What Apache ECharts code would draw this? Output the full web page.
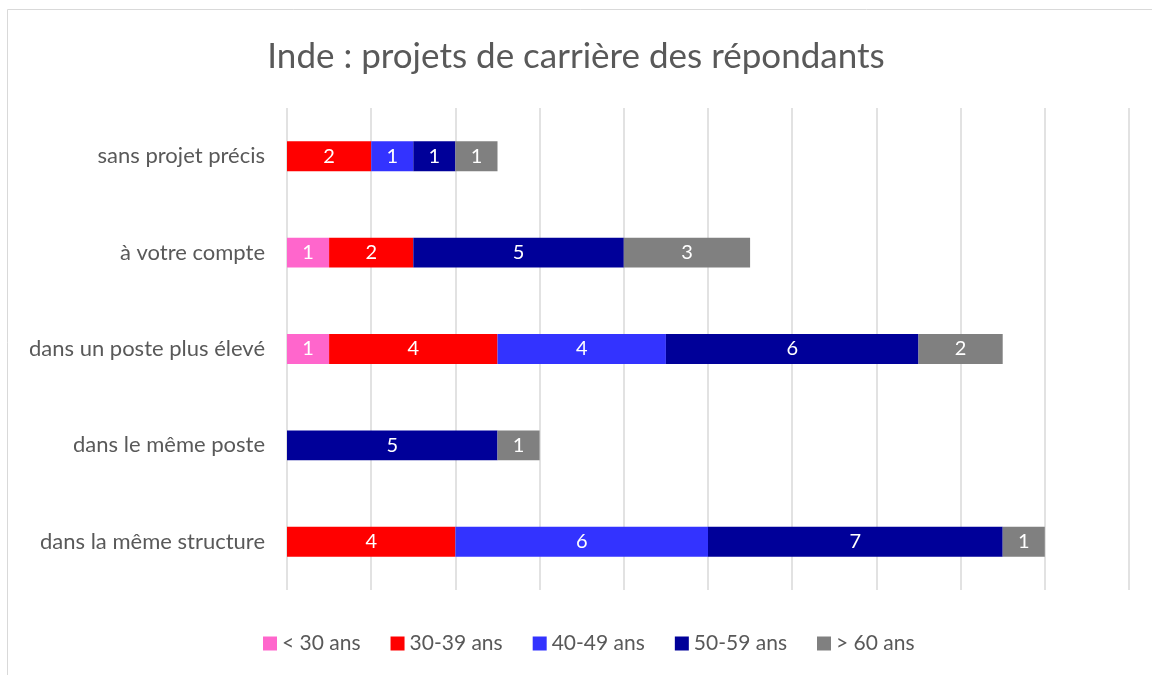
<!DOCTYPE html>
<html>
<head>
<meta charset="utf-8">
<script src="https://cdn.jsdelivr.net/npm/echarts@6/dist/echarts.min.js"></script>
<style>
  html, body { margin: 0; padding: 0; background: #fff; }
  #main { width: 1152px; height: 675px; }
</style>
</head>
<body>
<div id="main"></div>
<script>
// Categories, top to bottom as in the picture
const categories = [
  'sans projet précis',
  'à votre compte',
  'dans un poste plus élevé',
  'dans le même poste',
  'dans la même structure'
];

const ageGroups = ['< 30 ans', '30-39 ans', '40-49 ans', '50-59 ans', '> 60 ans'];
const colors = ['#FF66CC', '#FF0000', '#3333FF', '#000099', '#808080'];

// Values per age group, same order as categories
const under30 = [0, 1, 1, 0, 0];
const age30 = [2, 2, 4, 0, 4];
const age40 = [1, 0, 4, 0, 6];
const age50 = [1, 5, 6, 5, 7];
const over60 = [1, 3, 2, 1, 1];

const values = [under30, age30, age40, age50, over60];

const textColor = '#595959';
const fontFamily = 'Lato, "Open Sans", sans-serif';

const series = ageGroups.map((name, i) => ({
  name: name,
  type: 'bar',
  stack: 'total',
  data: values[i],
  barCategoryGap: '69%',
  itemStyle: { color: colors[i] },
  label: {
    show: true,
    color: '#fff',
    fontSize: 20,
    fontFamily: fontFamily,
    formatter: (p) => (p.value ? String(p.value) : '')
  }
}));

const chart = echarts.init(document.getElementById('main'));
chart.setOption({
  animation: false,
  title: {
    text: 'Inde : projets de carrière des répondants',
    left: 'center',
    top: 34,
    textStyle: {
      color: textColor,
      fontSize: 35,
      fontWeight: 'normal',
      fontFamily: fontFamily
    }
  },
  legend: {
    top: 628,
    left: 258,
    itemWidth: 14,
    itemHeight: 14,
    itemGap: 30,
    icon: 'rect',
    textStyle: { color: textColor, fontSize: 21, fontFamily: fontFamily },
    data: ageGroups
  },
  grid: {
    left: 287,
    right: 23,
    top: 108,
    bottom: 85
  },
  xAxis: {
    type: 'value',
    min: 0,
    max: 20,
    interval: 2,
    axisLabel: { show: false },
    axisLine: { show: false },
    axisTick: { show: false },
    splitLine: { lineStyle: { color: '#d9d9d9', width: 1.5 } }
  },
  yAxis: {
    type: 'category',
    inverse: true,
    data: categories,
    axisLine: { show: false },
    axisTick: { show: false },
    axisLabel: {
      color: textColor,
      fontSize: 22,
      fontFamily: fontFamily,
      margin: 22
    }
  },
  graphic: [{
    type: 'rect',
    shape: { x: 7.5, y: 9.5, width: 1200, height: 700 },
    style: { fill: 'none', stroke: '#d9d9d9', lineWidth: 1 },
    silent: true,
    z: -1
  }],
  series: series
});
</script>
</body>
</html>
